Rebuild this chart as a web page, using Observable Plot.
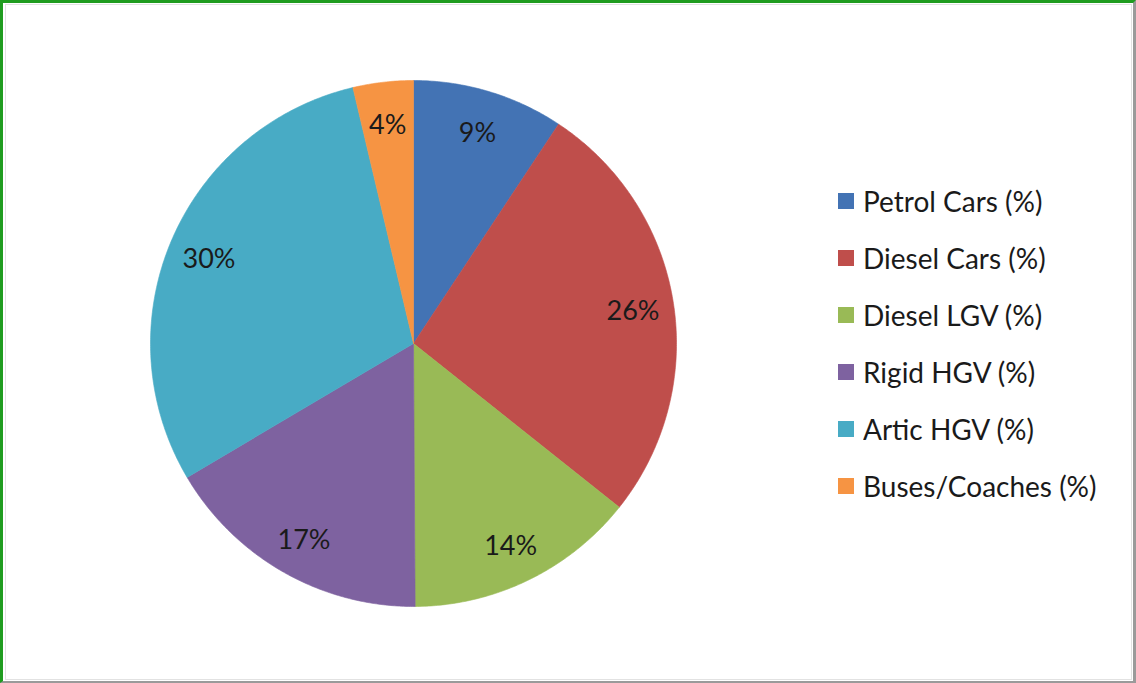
<!DOCTYPE html>
<html>
<head>
<meta charset="utf-8">
<script src="https://cdn.jsdelivr.net/npm/d3@7"></script>
<script src="https://cdn.jsdelivr.net/npm/@observablehq/plot@0.6"></script>
<style>
  html, body { margin: 0; padding: 0; background: #fff; }
  #wrap { position: relative; width: 1136px; height: 683px; overflow: hidden; background: #fff; }
  #chart svg { position: absolute; left: 0; top: 0; }
  #frame { position: absolute; left: 0; top: 0; width: 1136px; height: 683px; box-sizing: border-box;
    border-top: 3px solid #1f9c1f; border-left: 3px solid #1f9c1f; border-right: 3px solid #9a9a9a; border-bottom: 2px solid #9a9a9a; pointer-events: none; }
  #inner { position: absolute; left: 5px; top: 4px; right: 4px; bottom: 3px; border: 1px solid #e2e2e2; pointer-events: none; }
  #legend { position: absolute; left: 838px; top: 172px; }
  #legend .lg-swatches { font-family: Lato, "Open Sans", sans-serif; font-size: 28px; color: #1a1a1a; margin: 0; }
  #legend .lg-swatch { height: 57px; display: flex; align-items: center; margin: 0; padding: 0; white-space: nowrap; }
  #legend .lg-swatch svg { margin-right: 9px; }
</style>
</head>
<body>
<div id="wrap">
  <div id="chart"></div>
  <div id="legend"></div>
  <div id="inner"></div>
  <div id="frame"></div>
</div>
<script>
const categories = ["Petrol Cars (%)", "Diesel Cars (%)", "Diesel LGV (%)", "Rigid HGV (%)", "Artic HGV (%)", "Buses/Coaches (%)"];
const values = [9.3, 26.4, 14.2, 16.6, 29.8, 3.7];
const labels = ["9%", "26%", "14%", "17%", "30%", "4%"];
const colors = ["#4373B4", "#BF4E4B", "#99BA56", "#7E62A0", "#48ABC5", "#F69443"];

const total = d3.sum(values);
const slices = [];
let cum = 0;
categories.forEach((c, i) => {
  const a0 = cum / total * 2 * Math.PI;
  cum += values[i];
  const a1 = cum / total * 2 * Math.PI;
  slices.push({cat: c, a0, a1, mid: (a0 + a1) / 2, label: labels[i]});
});

const pts = [];
for (const s of slices) {
  pts.push({cat: s.cat, x: 0, y: 0});
  const n = Math.max(2, Math.ceil((s.a1 - s.a0) / (Math.PI / 360)));
  for (let k = 0; k <= n; k++) {
    const a = s.a0 + (s.a1 - s.a0) * k / n;
    pts.push({cat: s.cat, x: Math.sin(a), y: Math.cos(a)});
  }
  pts.push({cat: s.cat, x: 0, y: 0});
}

const labelR = 0.845;
const chart = Plot.plot({
  width: 1136,
  height: 683,
  margin: 0,
  x: {domain: [-1, 1], range: [150, 676], axis: null},
  y: {domain: [-1, 1], range: [606, 80], axis: null},
  color: {domain: categories, range: colors},
  style: {background: "transparent"},
  marks: [
    Plot.line(pts, {x: "x", y: "y", z: "cat", fill: "cat", stroke: "cat", strokeWidth: 0.6, curve: "linear"}),
    Plot.text(slices, {
      x: d => labelR * Math.sin(d.mid),
      y: d => labelR * Math.cos(d.mid),
      text: "label",
      dy: 3,
      fontSize: 27,
      fontFamily: "Lato, 'Open Sans', sans-serif",
      fill: "#1a1a1a"
    })
  ]
});
document.getElementById("chart").appendChild(chart);

const legend = Plot.legend({
  color: {domain: categories, range: colors},
  columns: 1,
  swatchSize: 16,
  className: "lg"
});
document.getElementById("legend").appendChild(legend);
</script>
</body>
</html>
